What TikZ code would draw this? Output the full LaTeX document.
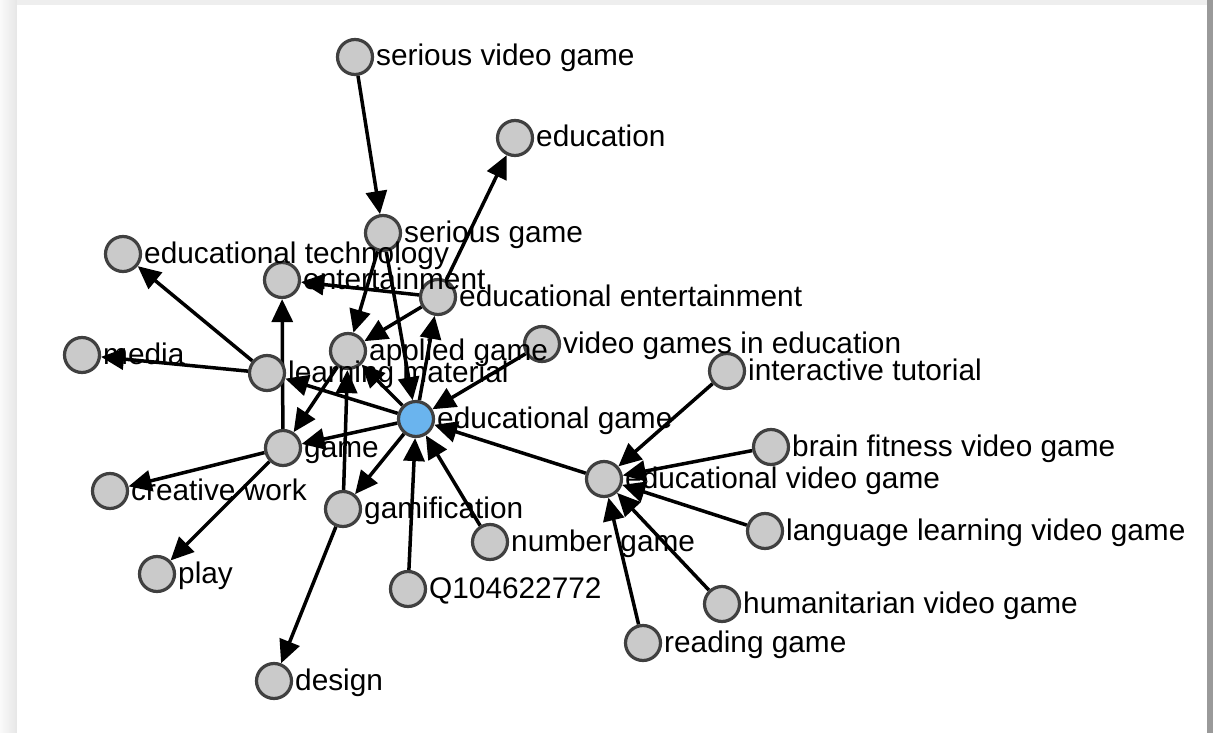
\documentclass[tikz,border=0pt]{standalone}
\usepackage{fontspec}
\setmainfont{Liberation Sans}
\usetikzlibrary{arrows.meta,calc}
\definecolor{nodefill}{HTML}{CACACA}
\definecolor{nodeborder}{HTML}{404040}
\definecolor{centerfill}{HTML}{6AB4EE}
\definecolor{shadowL}{HTML}{FAFAFA}
\definecolor{shadowR}{HTML}{E6E6E6}
\definecolor{shadowT}{HTML}{EEEEEE}
\definecolor{rightgray}{HTML}{9A9A9A}
\pgfdeclarelayer{back}
\pgfdeclarelayer{edges}
\pgfsetlayers{back,edges,main}
\newcommand\lab[2]{\node[lbl] (#1-l) at ([shift={(21,9)}]#1.center) {#2};}
\begin{document}
\begin{tikzpicture}[x=1pt,y=-1pt,
  vtx/.style={circle, draw=nodeborder, fill=nodefill, line width=3.2pt, minimum size=35pt, inner sep=0pt},
  ctr/.style={vtx, fill=centerfill},
  lbl/.style={anchor=base west, inner sep=0pt, font=\fontsize{29.8}{30}\selectfont, text=black},
  link/.style={line width=3.5pt, draw=black, -{Triangle[length=23pt,width=21pt]}},
]
\useasboundingbox (0,0) rectangle (1213,733);
\begin{pgfonlayer}{back}
\shade[left color=shadowL, right color=shadowR] (0,0) rectangle (17,733);
\fill[shadowT] (17,0) rectangle (1213,5);
\fill[white] (17,5) rectangle (1207,733);
\fill[rightgray] (1207,0) rectangle (1213,733);
\end{pgfonlayer}

\node[vtx] (svg) at (355,57) {};
\node[vtx] (edu) at (515,138) {};
\node[vtx] (sg) at (383,233) {};
\node[vtx] (et) at (123,254) {};
\node[vtx] (ent) at (282,280) {};
\node[vtx] (ee) at (438,297) {};
\node[vtx] (med) at (82,355) {};
\node[vtx] (ag) at (348,351) {};
\node[vtx] (vge) at (542,344) {};
\node[vtx] (lm) at (267,373) {};
\node[vtx] (it) at (727,371) {};
\node[ctr] (eg) at (416,419) {};
\node[vtx] (gm) at (283,448) {};
\node[vtx] (bf) at (771,447) {};
\node[vtx] (evg) at (604,479) {};
\node[vtx] (cw) at (110,491) {};
\node[vtx] (gam) at (343,509) {};
\node[vtx] (ll) at (765,531) {};
\node[vtx] (ng) at (490,542) {};
\node[vtx] (pl) at (157,574) {};
\node[vtx] (q) at (408,589) {};
\node[vtx] (hum) at (722,604) {};
\node[vtx] (rg) at (643,643) {};
\node[vtx] (des) at (274,681) {};

\begin{pgfonlayer}{edges}
\draw[link] (svg) -- (sg);
\draw[link] (ee) -- (edu);
\draw[link] (sg) -- (ag);
\draw[link] (sg) -- (eg);
\draw[link] (ee) -- (ag);
\draw[link] (ee) -- (ent);
\draw[link] (eg) -- (ee);
\draw[link] (gm) -- (ent);
\draw[link] (lm) -- (et);
\draw[link] (lm) -- (med);
\draw[link] (eg) -- (lm);
\draw[link] (eg) -- (ag);
\draw[link] (ag) -- (gm);
\draw[link] (eg) -- (gm);
\draw[link] (gm) -- (cw);
\draw[link] (gm) -- (pl);
\draw[link] (gam) -- (ag);
\draw[link] (eg) -- (gam);
\draw[link] (gam) -- (des);
\draw[link] (vge) -- (eg);
\draw[link] (q) -- (eg);
\draw[link] (ng) -- (eg);
\draw[link] (evg) -- (eg);
\draw[link] (it) -- (evg);
\draw[link] (bf) -- (evg);
\draw[link] (ll) -- (evg);
\draw[link] (hum) -- (evg);
\draw[link] (rg) -- (evg);
\end{pgfonlayer}

\lab{svg}{serious video game}
\lab{edu}{education}
\lab{sg}{serious game}
\lab{et}{educational technology}
\lab{ent}{entertainment}
\lab{ee}{educational entertainment}
\lab{med}{media}
\lab{ag}{applied game}
\lab{vge}{video games in education}
\lab{lm}{learning material}
\lab{it}{interactive tutorial}
\lab{eg}{educational game}
\lab{gm}{game}
\lab{bf}{brain fitness video game}
\lab{evg}{educational video game}
\lab{cw}{creative work}
\lab{gam}{gamification}
\lab{ll}{language learning video game}
\lab{ng}{number game}
\lab{pl}{play}
\lab{q}{Q104622772}
\lab{hum}{humanitarian video game}
\lab{rg}{reading game}
\lab{des}{design}
\end{tikzpicture}
\end{document}
